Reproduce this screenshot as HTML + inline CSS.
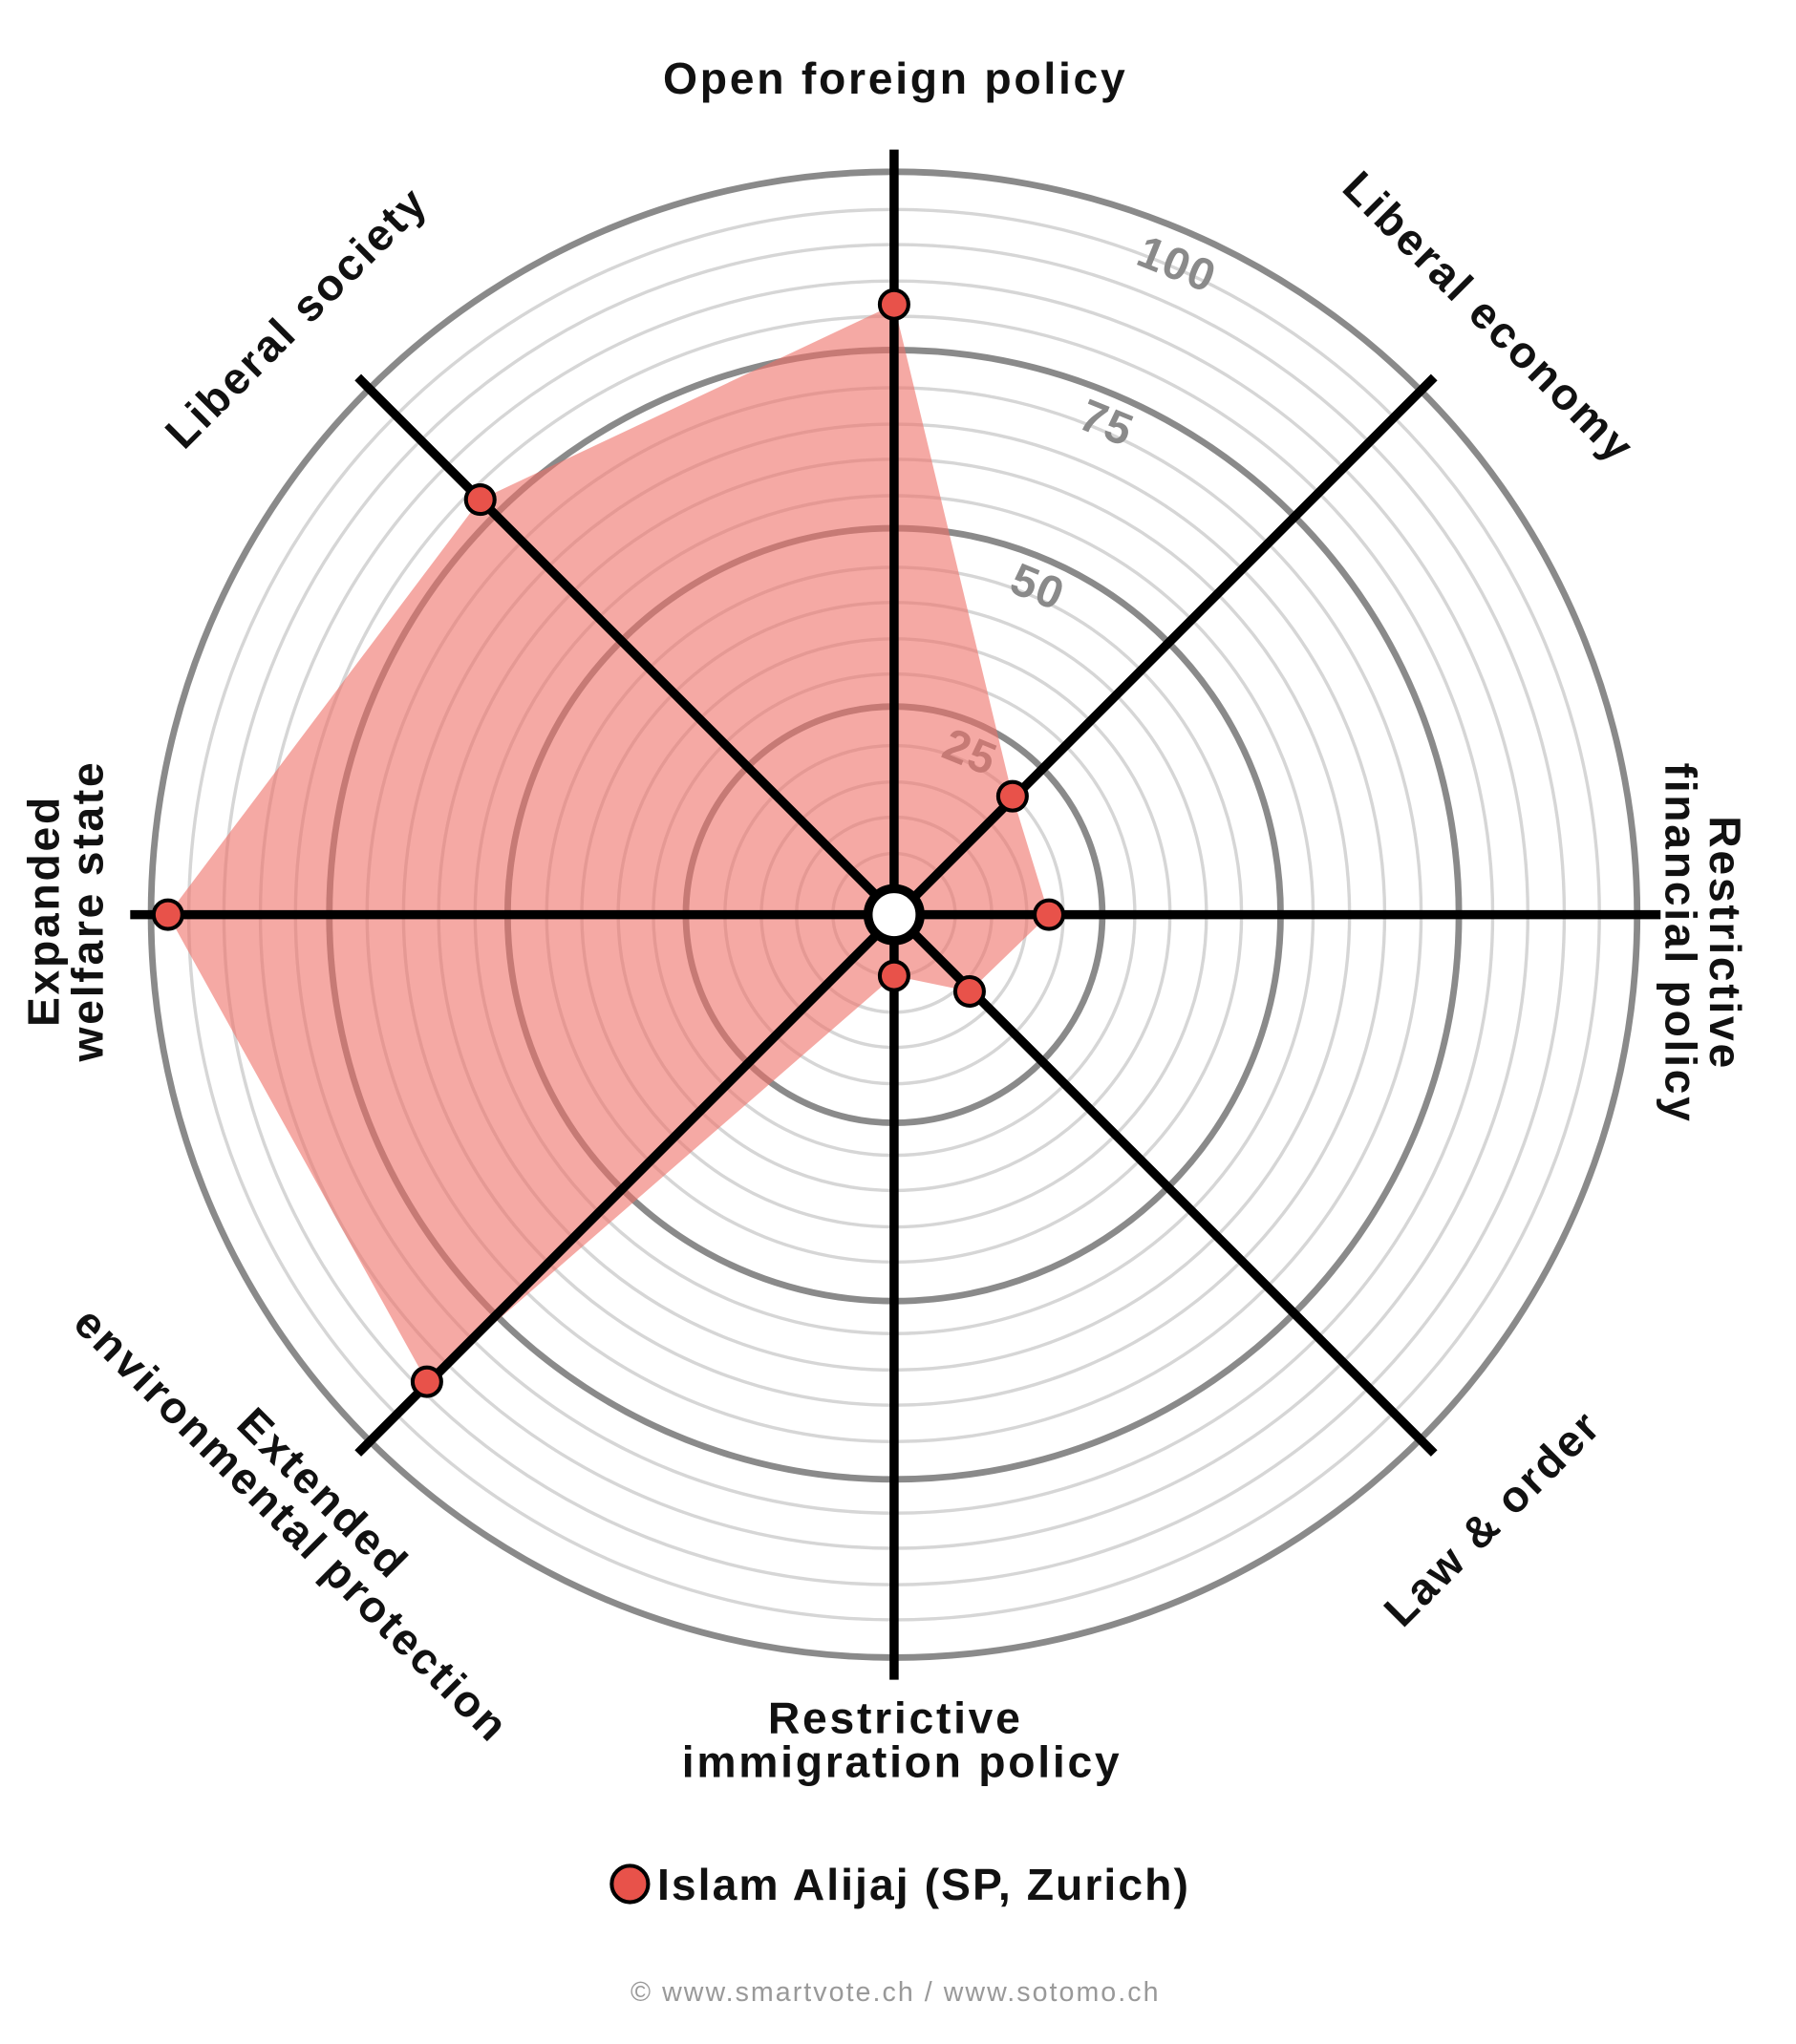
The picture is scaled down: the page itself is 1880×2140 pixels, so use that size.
<!DOCTYPE html>
<html><head><meta charset="utf-8"><style>
html,body{margin:0;padding:0;background:#fff}
svg{display:block}
text{font-family:"Liberation Sans",sans-serif}
</style></head><body>
<svg width="1880" height="2140" viewBox="0 0 1380 1571" xmlns="http://www.w3.org/2000/svg">
<rect width="1380" height="1571" fill="#fff"/>
<g fill="none">
<g stroke="#d6d6d6" stroke-width="2.5">
<circle cx="687" cy="703" r="47"/><circle cx="687" cy="703" r="75"/><circle cx="687" cy="703" r="102"/><circle cx="687" cy="703" r="130"/>
<circle cx="687" cy="703" r="185"/><circle cx="687" cy="703" r="212"/><circle cx="687" cy="703" r="240"/><circle cx="687" cy="703" r="267"/>
<circle cx="687" cy="703" r="322"/><circle cx="687" cy="703" r="350"/><circle cx="687" cy="703" r="377"/><circle cx="687" cy="703" r="405"/>
<circle cx="687" cy="703" r="460"/><circle cx="687" cy="703" r="487"/><circle cx="687" cy="703" r="515"/><circle cx="687" cy="703" r="542"/>
</g>
<g stroke="#8a8a8a" stroke-width="5">
<circle cx="687" cy="703" r="160"/><circle cx="687" cy="703" r="297"/><circle cx="687" cy="703" r="434"/><circle cx="687" cy="703" r="571"/>
</g>
</g>
<g fill="#8a8a8a" font-size="35" font-weight="bold" text-anchor="middle" letter-spacing="1">
<text transform="translate(900,214) rotate(22)">100</text>
<text transform="translate(846,336) rotate(22)">75</text>
<text transform="translate(793,462) rotate(22)">50</text>
<text transform="translate(741,589) rotate(22)">25</text>
</g>
<polygon points="687,234 778,612 806,703 745,762 687,750 328,1062 129,703 369,384" fill="#ef6f68" fill-opacity="0.6"/>
<g stroke="#000" stroke-width="7" stroke-linecap="butt">
<line x1="687" y1="115" x2="687" y2="1291"/>
<line x1="100" y1="703" x2="1276" y2="703"/>
<line x1="275" y1="290" x2="1102" y2="1117"/>
<line x1="1102" y1="290" x2="275" y2="1117"/>
</g>
<circle cx="687" cy="703" r="20" fill="#fff" stroke="#000" stroke-width="7"/>
<g fill="#e8524a" stroke="#000" stroke-width="3">
<circle cx="687" cy="234" r="11"/><circle cx="778" cy="612" r="11"/><circle cx="806" cy="703" r="11"/><circle cx="745" cy="762" r="11"/>
<circle cx="687" cy="750" r="11"/><circle cx="328" cy="1062" r="11"/><circle cx="129" cy="703" r="11"/><circle cx="369" cy="384" r="11"/>
</g>
<g fill="#111" font-size="34" font-weight="bold" text-anchor="middle" letter-spacing="2">
<text x="688" y="72">Open foreign policy</text>
<text transform="translate(1136,252) rotate(45)">Liberal economy</text>
<text transform="translate(1314,725) rotate(90)"><tspan x="0" y="0">Restrictive</tspan><tspan x="0" y="34">financial policy</tspan></text>
<text transform="translate(1155,1175) rotate(-45)">Law &amp; order</text>
<text x="688" y="1332">Restrictive</text>
<text x="693" y="1366">immigration policy</text>
<text transform="translate(240,1156) rotate(45)"><tspan x="0" y="0">Extended</tspan><tspan x="0" y="34">environmental protection</tspan></text>
<text transform="translate(45,700) rotate(-90)"><tspan x="0" y="0">Expanded</tspan><tspan x="0" y="34">welfare state</tspan></text>
<text transform="translate(236,252) rotate(-45)">Liberal society</text>
</g>
<circle cx="484" cy="1448" r="14" fill="#e8524a" stroke="#000" stroke-width="3"/>
<text x="505" y="1460" font-size="34" font-weight="bold" fill="#111" letter-spacing="1.5">Islam Alijaj (SP, Zurich)</text>
<text x="688" y="1538" font-size="21" fill="#999" text-anchor="middle" letter-spacing="1.5">© www.smartvote.ch / www.sotomo.ch</text>
</svg>
</body></html>
